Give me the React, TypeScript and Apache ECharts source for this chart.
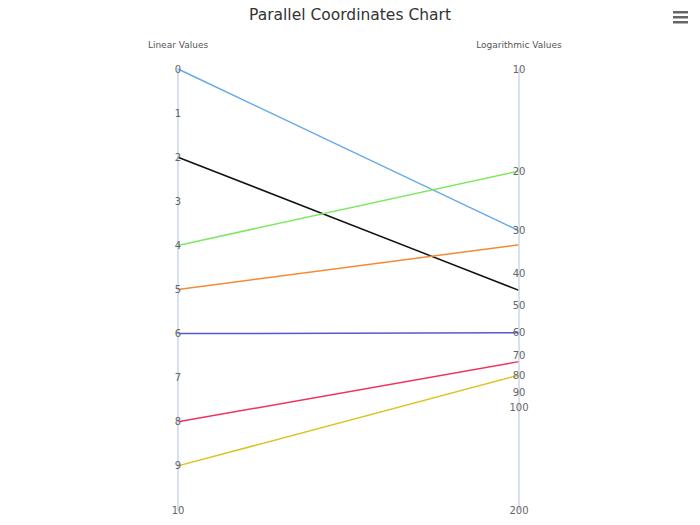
import React, { useEffect, useRef } from "react";
import * as echarts from "echarts";

const axisNames = ["Linear Values", "Logarithmic Values"];
const linearValues = [0, 2, 4, 5, 6, 8, 9];
const logValues = [30, 45, 20, 33, 60, 73, 80];
const lineColors = ["#62a9ea", "#111111", "#7ee864", "#f58a34", "#5359d6", "#f0325c", "#ddc322"];
const linearTicks = [0, 1, 2, 3, 4, 5, 6, 7, 8, 9, 10];
const logTicks = [10, 20, 30, 40, 50, 60, 70, 80, 90, 100, 200];

const FONT = "DejaVu Sans";

export default function App() {
  const ref = useRef<HTMLDivElement>(null);
  useEffect(() => {
    document.body.style.margin = "0";
    const chart = echarts.init(ref.current!, null, { renderer: "svg" });
    const labelStyle = {
      show: true,
      margin: 0,
      align: "center" as const,
      verticalAlign: "middle" as const,
      color: "#666",
      fontSize: 10,
      fontFamily: FONT,
    };
    const common = {
      inverse: true,
      nameLocation: "start" as const,
      nameGap: 20,
      nameTextStyle: { color: "#555", fontSize: 9, fontFamily: FONT },
      axisLine: { show: true, lineStyle: { color: "#ccd6eb", width: 1.5 } },
      axisTick: { show: false },
      splitLine: { show: false },
    };
    chart.setOption({
      animation: false,
      title: {
        text: "Parallel Coordinates Chart",
        left: "center",
        top: 2,
        textStyle: { fontSize: 15.5, fontWeight: "normal", color: "#333", fontFamily: FONT },
      },
      parallel: {
        left: 178,
        right: 181,
        top: 69,
        bottom: 15,
      },
      parallelAxis: [
        {
          ...common,
          dim: 0,
          name: axisNames[0],
          type: "value",
          min: linearTicks[0],
          max: linearTicks[linearTicks.length - 1],
          interval: 1,
          axisLabel: { ...labelStyle },
        },
        {
          ...common,
          dim: 1,
          name: axisNames[1],
          type: "log",
          logBase: 10,
          min: logTicks[0],
          max: logTicks[logTicks.length - 1],
          axisLabel: { ...labelStyle, customValues: logTicks },
        },
      ],
      graphic: [
        { type: "rect", shape: { x: 673, y: 11, width: 15, height: 2.5 }, style: { fill: "#666" } },
        { type: "rect", shape: { x: 673, y: 16, width: 15, height: 2.5 }, style: { fill: "#666" } },
        { type: "rect", shape: { x: 673, y: 21, width: 15, height: 2.5 }, style: { fill: "#666" } },
      ],
      series: [
        {
          type: "parallel",
          silent: true,
          lineStyle: { width: 1.5, opacity: 1 },
          data: linearValues.map((v, i) => ({
            value: [v, logValues[i]],
            lineStyle: { color: lineColors[i], width: 1.5, opacity: 1 },
          })),
        },
      ],
    });
    return () => chart.dispose();
  }, []);
  return <div ref={ref} style={{ width: 700, height: 525 }} />;
}
